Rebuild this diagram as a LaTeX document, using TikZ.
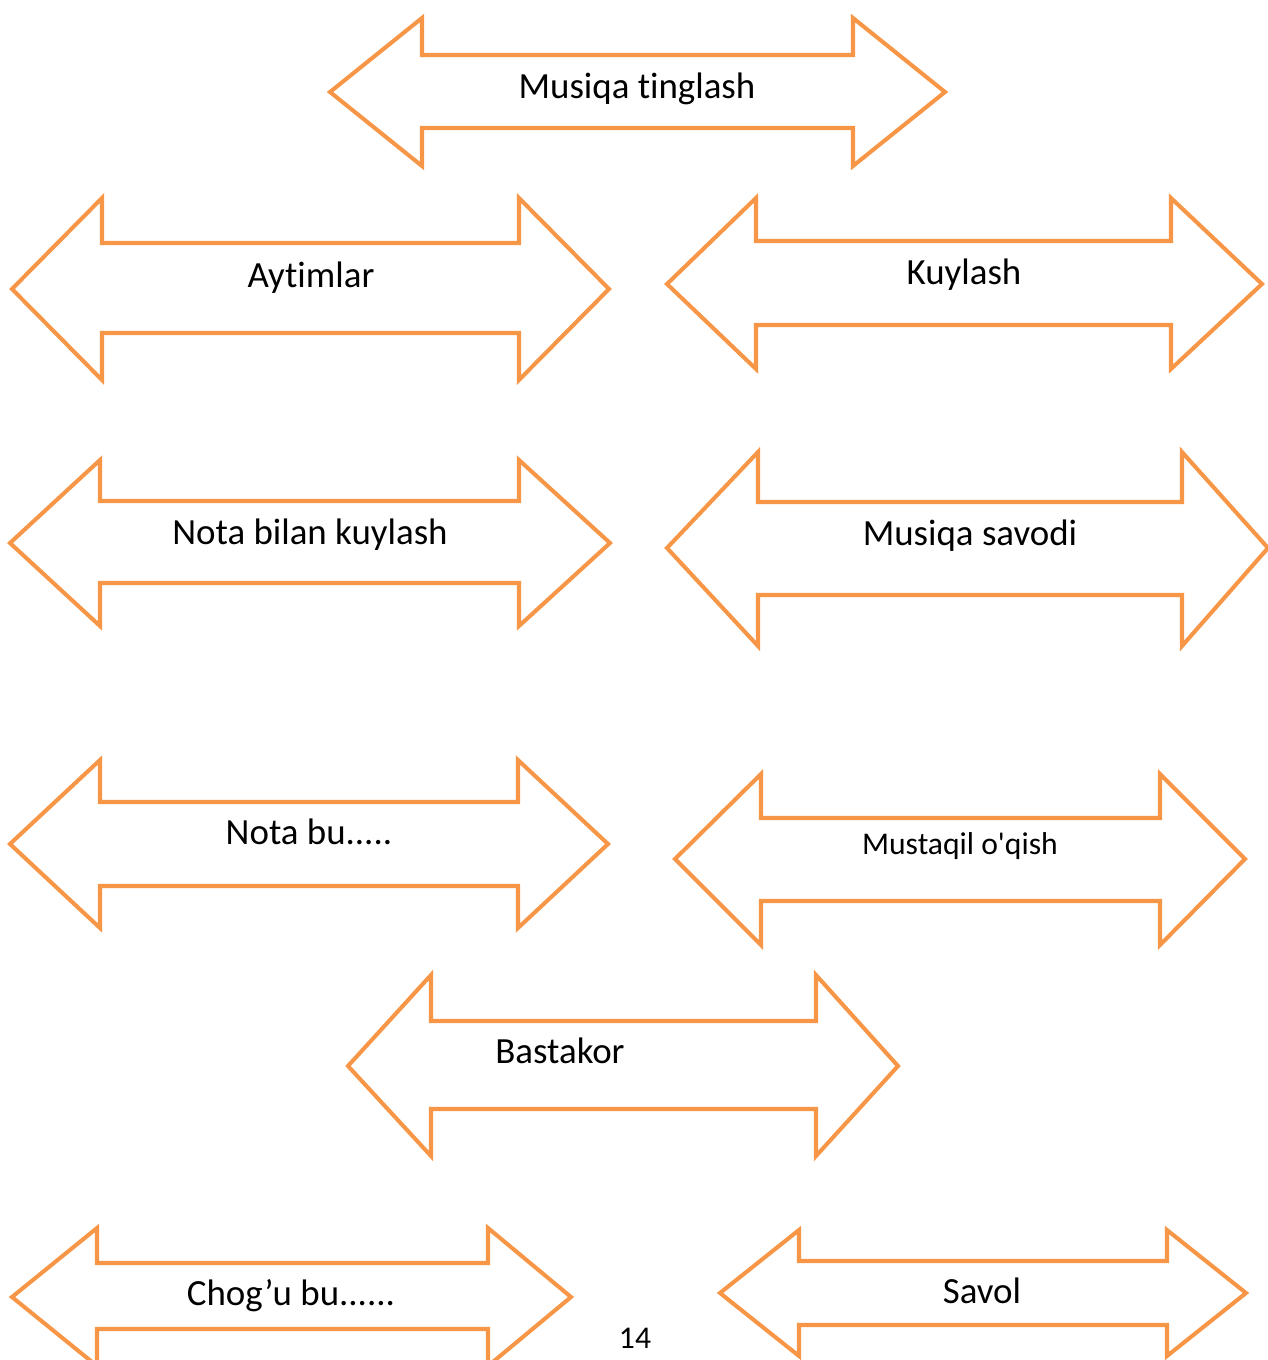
\documentclass[tikz,border=0pt]{standalone}
\usepackage{fontspec}
\setmainfont{Carlito}[Ligatures={NoCommon,NoContextual}]
\usepackage{tikz}
\definecolor{arroworange}{HTML}{F79646}
\tikzset{
  twoway/.style={draw=arroworange, line width=2.3pt, line join=miter},
  label/.style={anchor=base, inner sep=0pt, font=\fontsize{21}{25}\selectfont},
  smalllabel/.style={anchor=base, inner sep=0pt, font=\fontsize{18}{22}\selectfont}
}
% left tip, left base, right base, right tip, mid y, shaft top, shaft bottom, head top, head bottom
\newcommand{\twoarrow}[9]{
\draw[twoway] (#1,#5) -- (#2,#8) -- (#2,#6) -- (#3,#6) -- (#3,#8) -- (#4,#5)
  -- (#3,#9) -- (#3,#7) -- (#2,#7) -- (#2,#9) -- cycle;
}
\begin{document}
\begin{tikzpicture}[x=0.02cm, y=-0.02cm]
\useasboundingbox (0,0) rectangle (1268,1360);
\begin{scope}
\clip (0,0) rectangle (1268,1360);
\twoarrow{330}{422}{853}{945}{92}{55}{128}{18}{166}
\twoarrow{12}{102}{519}{609}{289}{243}{333}{198}{380}
\twoarrow{667}{756}{1171}{1262}{284}{241}{325}{198}{369}
\twoarrow{10}{100}{519}{610}{543}{501}{583}{460}{626}
\twoarrow{667}{758}{1182}{1268}{548}{502}{595}{452}{646}
\twoarrow{10}{100}{518}{608}{844}{802}{886}{760}{928}
\twoarrow{675}{761}{1160}{1245}{859}{818}{901}{774}{945}
\twoarrow{348}{431}{816}{898}{1066}{1021}{1109}{975}{1156}
\twoarrow{12}{97}{488}{571}{1297}{1263}{1329}{1228}{1366}
\twoarrow{720}{799}{1167}{1246}{1293}{1261}{1325}{1230}{1356}
\end{scope}
\node[label] (tinglash) at (637,98) {Musiqa t\kern0pt inglash};
\node[label] (aytimlar) at (311,287) {Ayt\kern0pt imlar};
\node[label] (kuylash) at (964,284) {Kuylash};
\node[label] (notakuy) at (310,544) {Nota bilan kuylash};
\node[label] (savodi) at (970,545) {Musiqa savodi};
\node[label] (notabu) at (309,844) {Nota bu.....};
\node[smalllabel] (oqish) at (960,854) {Mustaqil o\textquotesingle qish};
\node[label] (bastakor) at (560,1063) {Bastakor};
\node[label] (choguz) at (291,1305) {Chog’u bu......};
\node[label] (savol) at (982,1303) {Savol};
\node[smalllabel] (page) at (635,1348) {14};
\end{tikzpicture}
\end{document}
